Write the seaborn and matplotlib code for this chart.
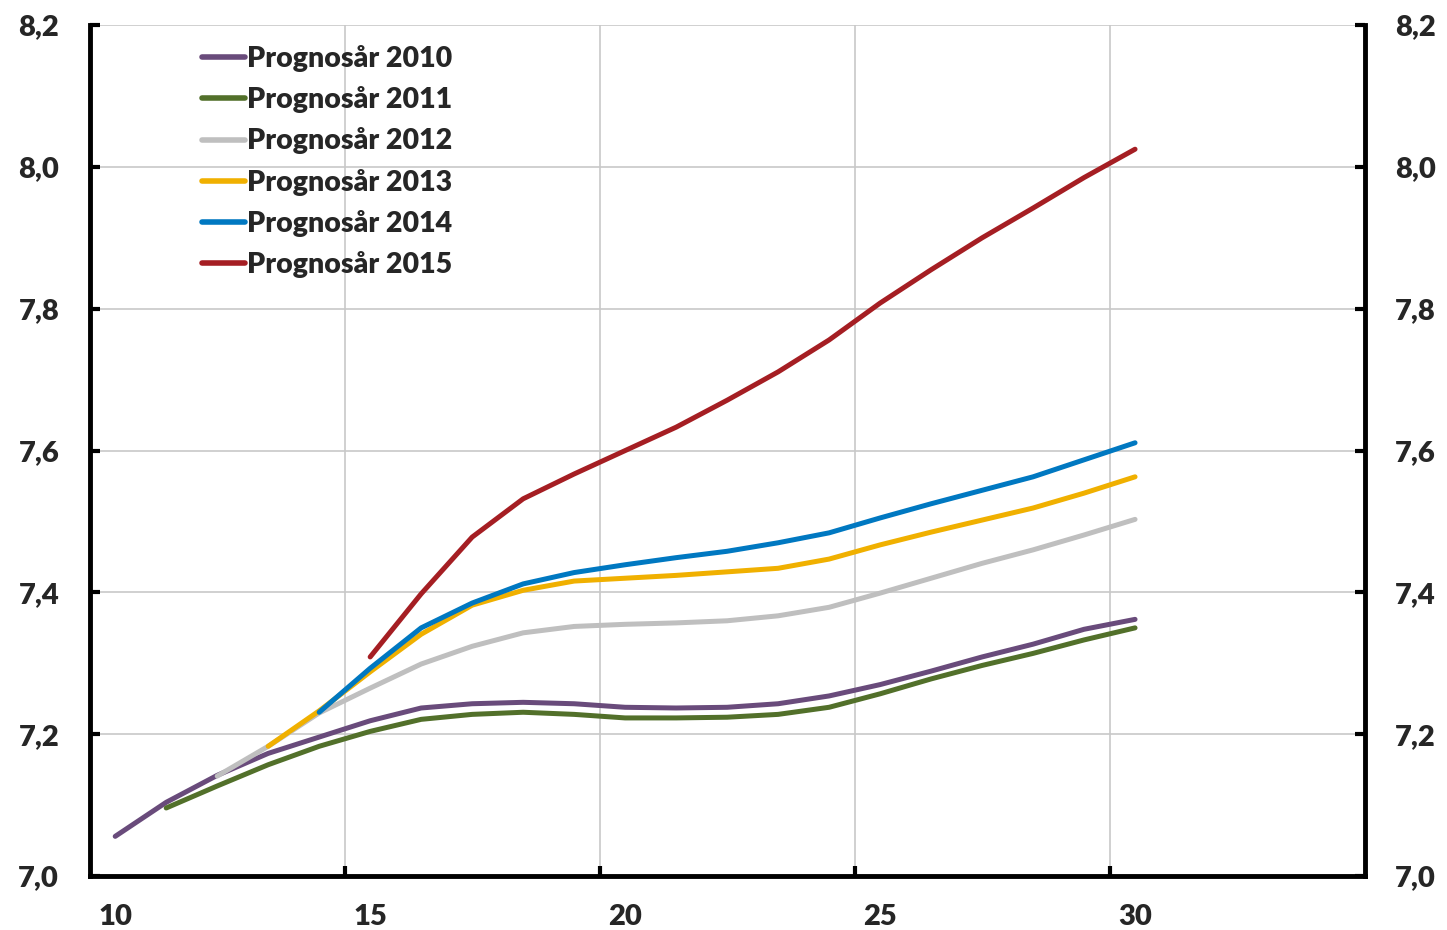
"""Prognosår 2010-2015: line chart recreated with seaborn."""

import matplotlib
matplotlib.use("Agg")
import matplotlib.pyplot as plt
from matplotlib.ticker import FuncFormatter
import seaborn as sns
import pandas as pd

sns.set_theme(style="white")
plt.rcParams["font.family"] = ["Lato", "DejaVu Sans"]
plt.rcParams["font.weight"] = "heavy"

# x-axis categories (years, 2-digit)
years = list(range(10, 31))

p2010 = [7.056, 7.104, 7.142, 7.173, 7.196, 7.219, 7.237, 7.243, 7.245, 7.243, 7.238,
         7.237, 7.238, 7.243, 7.254, 7.270, 7.289, 7.309, 7.327, 7.348, 7.362]
p2011 = [7.096, 7.127, 7.157, 7.183, 7.204, 7.221, 7.228, 7.231, 7.228, 7.223,
         7.223, 7.224, 7.228, 7.238, 7.257, 7.278, 7.297, 7.314, 7.333, 7.350]
p2012 = [7.141, 7.183, 7.230, 7.265, 7.299, 7.324, 7.343, 7.352, 7.355,
         7.357, 7.360, 7.367, 7.379, 7.399, 7.420, 7.441, 7.460, 7.481, 7.503]
p2013 = [7.183, 7.233, 7.288, 7.341, 7.382, 7.403, 7.416, 7.420,
         7.424, 7.429, 7.434, 7.447, 7.467, 7.485, 7.502, 7.519, 7.540, 7.563]
p2014 = [7.231, 7.293, 7.350, 7.385, 7.412, 7.428, 7.439,
         7.449, 7.458, 7.470, 7.484, 7.505, 7.525, 7.544, 7.563, 7.587, 7.611]
p2015 = [7.309, 7.398, 7.478, 7.532, 7.567, 7.600,
         7.633, 7.671, 7.711, 7.756, 7.808, 7.855, 7.900, 7.942, 7.985, 8.025]

series = {
    "Prognosår 2010": p2010,
    "Prognosår 2011": p2011,
    "Prognosår 2012": p2012,
    "Prognosår 2013": p2013,
    "Prognosår 2014": p2014,
    "Prognosår 2015": p2015,
}
colors = ["#694B7B", "#52702A", "#BFBFBF", "#F0B000", "#0078C1", "#A51E23"]

y_ticks = [7.0, 7.2, 7.4, 7.6, 7.8, 8.0, 8.2]
x_labels = [10, 15, 20, 25, 30]
x_bounds = [14.5, 19.5, 24.5, 29.5]

rows = []
for name, vals in series.items():
    start = years[-1] - len(vals) + 1
    for i, v in enumerate(vals):
        rows.append({"year": start + i, "value": v, "series": name})
df = pd.DataFrame(rows)

fig = plt.figure(figsize=(14.47, 9.30), dpi=100)
ax = fig.add_axes([0.062, 0.058, 0.881, 0.915])

sns.lineplot(data=df, x="year", y="value", hue="series", palette=colors,
             linewidth=3.6, ax=ax, solid_capstyle="round")

ax.set_xlim(9.5, 34.5)
ax.set_ylim(7.0, 8.2)
ax.set_xlabel("")
ax.set_ylabel("")

# category boundaries: gridlines + ticks, labels at category centres
ax.set_xticks(x_bounds)
ax.set_xticklabels([])
ax.set_xticks(x_labels, minor=True)
ax.set_xticklabels([str(v) for v in x_labels], minor=True)
ax.tick_params(axis="x", which="major", direction="in", length=7, width=3,
               color="black", bottom=True)
ax.tick_params(axis="x", which="minor", length=0, pad=20, labelsize=21,
               bottom=True)

ax.set_yticks(y_ticks)
ax.yaxis.set_major_formatter(FuncFormatter(lambda v, _: f"{v:.1f}".replace(".", ",")))
ax.tick_params(axis="y", direction="in", length=7, width=3, color="black",
               left=True, right=True, labelleft=True, labelright=True,
               labelsize=21, pad=22)

ax.grid(True, which="major", color="#C8C8C8", linewidth=1.2)
ax.set_axisbelow(True)

for side in ["left", "right", "bottom"]:
    ax.spines[side].set_visible(True)
    ax.spines[side].set_color("black")
    ax.spines[side].set_linewidth(3.5)
ax.spines["top"].set_visible(False)

for lab in ax.get_xticklabels(minor=True) + ax.get_yticklabels():
    lab.set_fontweight("heavy")

leg = ax.legend(loc="upper left", bbox_to_anchor=(0.079, 0.99), frameon=False,
                fontsize=20.5, handlelength=1.5, handletextpad=0.1,
                labelspacing=0.5, borderaxespad=0)
for t in leg.get_texts():
    t.set_fontweight("heavy")
for h in leg.get_lines():
    h.set_linewidth(4)

fig.savefig("out.png", dpi=100)
